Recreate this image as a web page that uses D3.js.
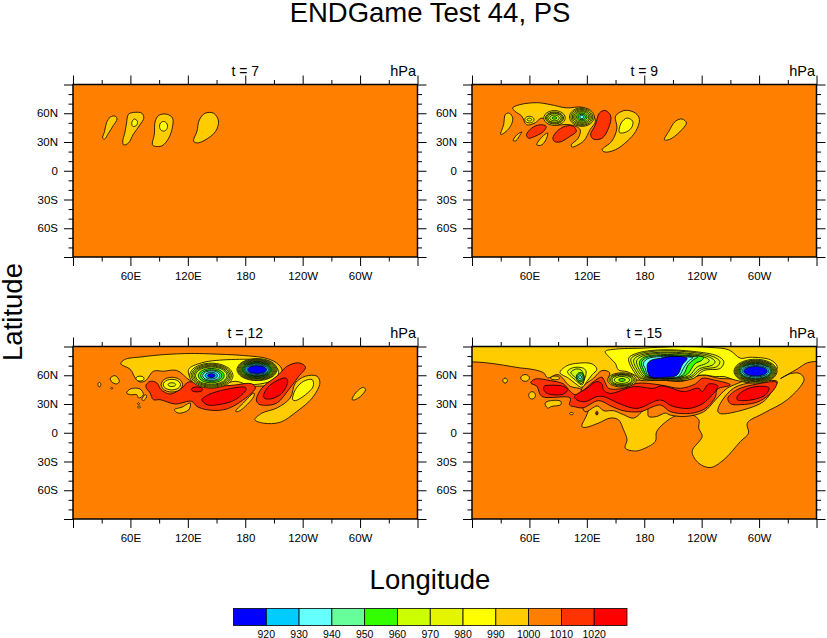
<!doctype html>
<meta charset="utf-8" />
<script src="https://cdn.jsdelivr.net/npm/d3@7/dist/d3.min.js"></script>
<style>
    html, body {
        margin: 0;
        background: white;
    }

    svg {
        display: block
    }

    text {
        font-family: "Liberation Sans", sans-serif;
        fill: black;
    }
</style>
<svg id="chart" width="827" height="638"></svg>
<script>
    // contour levels (hPa) and the band colours of the label bar
    var levels = [920, 930, 940, 950, 960, 970, 980, 990, 1000, 1010, 1020];
    var bandColors = ['#0000ff', '#00ccff', '#66ffff', '#66ff99', '#33ff00', '#ccff00',
        '#e5f500', '#ffff00', '#ffcc00', '#ff8000', '#ff3300', '#ff0000'];

    var lonMajor = [0, 60, 120, 180, 240, 300, 360];
    var lonMinor = [30, 90, 150, 210, 270, 330];
    var latMajor = [-90, -60, -30, 0, 30, 60, 90];
    var latMinor = [-80, -70, -50, -40, -20, -10, 10, 20, 40, 50, 70, 80];
    var lonLabels = { 60: '60E', 120: '120E', 180: '180', 240: '120W', 300: '60W' };
    var latLabels = { '-60': '60S', '-30': '30S', 0: '0', 30: '30N', 60: '60N' };

    // shapes. [band, [[lon, lat], ...]] is a closed contour,
    // [band, lon, lat, rLon, rLat] an oval one. band = lower bound of the colour band.
    var t7Shapes = [
        [990, [[31, 34], [33, 41], [35, 50], [39, 56], [44, 57], [46, 54], [42, 47], [37, 39], [33, 33]]],
        [990, [[52, 31], [54, 39], [56, 50], [58, 59], [65, 61], [72, 60], [74, 55], [70, 48], [63, 38], [58, 29], [53, 27]]],
        [980, [[61.4, 50], [64, 54], [67.4, 51.6], [66, 47], [62.5, 46.4]]],
        [990, [[83, 27], [85, 38], [86, 52], [90, 58], [98, 59], [104, 55], [104, 46], [100, 34], [93, 26], [86, 25.5]]],
        [980, 94.6, 46.4, 4.2, 5],
        [990, [[126, 31], [129.5, 41], [132, 53], [138, 60], [147, 60], [152, 52], [149, 41], [138, 32], [129.5, 29]]]
    ];

    var t9Shapes = [
        [990, [[30, 38], [33, 48], [35, 59], [39, 60], [42.6, 55], [40, 46], [33, 39]]],
        [990, [[42.6, 65.6], [50, 69], [68, 71], [82, 69], [99, 65.6], [115, 66.3], [125, 60], [129, 51.6], [123.5, 43], [116.6, 31], [104.4, 24.7], [103.7, 27], [111, 34], [113, 43], [102.6, 48], [85, 48], [73, 55], [66, 50], [57, 48], [52, 57], [45, 62]]],
        [980, 60, 53.4, 4.8, 3.4],
        [970, 60, 53.4, 2.5, 1.5],
        [980, 86.2, 55.1, 11.2, 7.7],
        [970, 86.2, 55.1, 9.5, 6.3],
        [970, 86.2, 55.1, 8.3, 5.4],
        [960, 86.2, 55.1, 7, 4.5],
        [960, 86.2, 55.1, 5, 3],
        [950, 86.2, 55.1, 2.5, 1.3],
        [980, 114.8, 56.1, 12.9, 9.8],
        [970, 114.8, 56.1, 11.5, 8.8],
        [970, 114.8, 56.1, 10, 7.8],
        [960, 114.8, 56.1, 8.6, 6.6],
        [960, 114.8, 56.1, 7.2, 5.5],
        [950, 114.8, 56.1, 5.5, 4.2],
        [940, 114.8, 56.1, 3.8, 2.9],
        [930, 114.8, 56.1, 2.2, 1.8],
        [1010, [[57, 37.6], [62.5, 44.6], [71, 48], [77.5, 46.4], [74.7, 41], [66, 36], [59, 34]]],
        [1010, [[84.5, 34], [88.6, 41], [97.4, 46.4], [106, 46.4], [109, 41], [102.6, 36], [92, 30], [86, 30.7]]],
        [1010, [[124, 37.6], [129, 48], [133, 60], [139, 63], [145, 57], [142.7, 44.6], [136, 34], [127, 33]]],
        [990, [[136, 22], [146, 30.7], [151.5, 44.6], [150, 57], [160, 63], [171, 60], [175, 53.4], [171, 41], [162, 30.7], [150, 22], [139, 19.5]]],
        [980, [[154, 40], [156, 50], [162, 55], [168, 51.6], [166.5, 44.6], [160, 40]]],
        [990, [[201, 32.4], [205.6, 41], [212.5, 51.6], [219.5, 54], [224, 50], [219.5, 43], [209, 34], [204, 32]]],
        [990, [[43, 31.4], [47, 37.6], [52, 40.4], [50, 37], [46, 31.4]]],
        [990, [[67.7, 27], [72, 34], [79, 39.4], [78, 34], [73, 27]]]
    ];

    var t12Shapes = [
        [990, [[50, 72], [54, 76.4], [72, 79.2], [96, 81.6], [122.5, 82.7], [143, 82.3], [178, 80.6], [203, 77.4], [215, 71], [218.5, 64], [211.5, 55.4], [206, 50], [190.6, 48.5], [159, 46.7], [138, 48.5], [122.5, 54.4], [108.5, 65], [94.6, 64.2], [84, 64.2], [76, 54.4], [70, 53], [65, 57.2], [60, 66]]],
        [980, 70, 56.5, 4.2, 2.6],
        [980, [[120.8, 66], [134.7, 73], [166, 76.4], [197.5, 75.3], [211.5, 69.4], [215, 62.4], [208, 54.4], [183.6, 50.2], [169.6, 53.7], [141.7, 46.7], [124, 55.4]]],
        [1010, [[76, 48.5], [80.6, 53.7], [87.6, 52], [92, 45], [101.6, 40.4], [113.8, 46.7], [120.8, 53], [141.7, 48.5], [166, 49.5], [187, 51], [190.6, 46.7], [171.4, 30], [157.4, 24], [140, 24], [129.5, 27.5], [124, 32.8], [106.8, 30], [91, 34.5], [84, 34.5], [80.6, 41.5]]],
        [1020, [[134.7, 34.5], [141.7, 39.7], [159, 45], [180, 47.4], [180.8, 45], [169.6, 34.5], [152, 29.3], [140, 29.3]]],
        [1020, 129.5, 45.2, 6, 2.6],
        [990, 103.3, 50.2, 11.2, 7.7],
        [980, 103.3, 50.2, 9, 5.5],
        [970, 103.3, 50.2, 4, 2],
        // the two deep lows
        [980, 144.5, 59.6, 22.7, 13],
        [970, 144.5, 59.6, 21, 12],
        [970, 144.5, 59.6, 19.5, 11],
        [960, 144.5, 59.6, 18, 10],
        [960, 144.5, 59.6, 16.5, 9],
        [950, 144.5, 59.6, 13.5, 7.5],
        [940, 144.5, 59.6, 11, 6],
        [930, 144.5, 59.6, 9, 5],
        [920, 144.5, 59.6, 6.5, 3.5],
        [910, 144.5, 59.6, 4, 2],
        [980, 192.3, 65.9, 21, 11.5],
        [970, 192.3, 65.9, 20, 10.8],
        [970, 192.3, 65.9, 19, 10],
        [960, 192.3, 65.9, 18, 9.3],
        [960, 192.3, 65.9, 17, 8.6],
        [950, 192.3, 65.9, 16, 8],
        [950, 192.3, 65.9, 15, 7.3],
        [940, 192.3, 65.9, 14, 6.6],
        [930, 192.3, 65.9, 13, 6],
        [920, 192.3, 65.9, 12, 5],
        [910, 192.3, 65.9, 10, 4],
        // small features
        [990, [[39, 57], [44, 59.6], [48.5, 53.7], [45.7, 51], [40.5, 53]]],
        [990, 27.6, 50.2, 1.5, 2.4],
        [990, 40.5, 46.4, 1, 1],
        [990, [[56, 41.5], [60, 45.7], [70, 45.7], [73.6, 39.7], [68.4, 36.3], [66.7, 39.7], [60, 39.7]]],
        [990, [[72, 34.5], [75.4, 39.7], [77, 38.7], [74.3, 33.8]]],
        [990, 68.4, 30.3, 1, 1],
        [990, 69, 26.8, 1.2, 1.2],
        [990, [[106, 24], [114, 26.8], [122.5, 31], [121, 24], [110, 20.5]]],
        [990, [[170, 22.3], [178, 31], [189, 41.5], [189, 38], [180, 27.5], [173, 22.3]]],
        // eastern waves
        [1010, [[191.6, 34.5], [197.5, 46.7], [215, 60.7], [223.7, 69.4], [236, 72.9], [243, 68.4], [236, 59], [225.5, 45], [213, 31], [201, 28.6], [194, 30]]],
        [1020, [[199, 38], [204.5, 48.5], [222, 57.2], [224.4, 53.7], [218.5, 41.5], [208, 35.6], [201, 35.6]]],
        [990, [[190, 13.6], [197.5, 20.5], [213, 25.8], [227, 36.3], [232.4, 52], [243, 59], [255, 59], [258, 52], [250, 36.3], [234, 22.3], [216.7, 11], [199, 10]]],
        [980, [[229.6, 34.5], [232.4, 45], [241, 53.7], [250, 55.4], [251, 48.5], [243, 39.7], [232.4, 33.5]]],
        [990, [[291.7, 34.5], [295.3, 41.5], [303.3, 47.4], [305.7, 45], [300.5, 38], [294, 34.2]]]
    ];

    var t15Shapes = [
        // gold area, runs off the frame at the top and both sides
        [990, [[-10, 74], [0, 74], [15, 73], [33, 70.5], [50, 67.7], [64, 66], [75, 62.4], [79, 57.2], [90, 60.7], [102.6, 48.5], [114.8, 45], [123, 30], [120, 18.8], [114.8, 6.6], [118, 5.5], [132, 10], [144.5, 15.3], [153, 13.6], [158.4, 3], [162, -7.4], [160, -16], [169, -19], [176, -18], [191.6, -9], [193, 1.4], [211, 17], [225, 20.5], [237, 13.6], [237, 4.8], [240.5, -3.9], [230, -19.6], [237, -31.8], [249, -36.3], [263, -28.3], [280.6, -9], [289, -0.4], [287.6, 10], [305, 20.5], [329.5, 34.5], [347, 55.4], [342.7, 61.7], [333, 61.7], [322.4, 56.5], [340, 66.6], [350.4, 73], [362.6, 74.6], [370, 75], [370, 95], [-10, 95]]],
        [1000, [[114.8, 46.4], [127, 56.8], [135.8, 64.9], [143.8, 62.8], [142.7, 55], [172.4, 55], [197, 55], [217.8, 53.4], [224.8, 55], [240.5, 60.3], [258, 56.8], [284, 55], [266.6, 46.4], [254.4, 34.2], [242.2, 21.9], [223, 17], [207, 18.5], [202, 20.5], [193, 17], [184.6, 17], [183, 25.8], [169, 15.3], [158, 19], [148, 23], [137.5, 23], [131, 28], [118, 22]]],
        [1010, [[61.4, 52], [66, 56.1], [81.7, 54.4], [95.6, 50.9], [102.6, 43.2], [107.8, 39.7], [114.8, 42.9], [127, 53.4], [135.8, 57.9], [139.3, 52], [142.7, 46.4], [158.4, 46.4], [172.4, 51.6], [196.8, 49.9], [217.8, 46.4], [233.5, 51], [240.5, 56.8], [252.7, 55.1], [270.1, 49.9], [256.2, 45.3], [254.4, 37.6], [244, 25.4], [228.2, 20.2], [207.3, 22], [196.8, 29], [175.9, 22], [158, 23], [145, 28], [132.3, 33.5], [116, 26], [108, 27], [102, 29], [102.6, 36.3], [72.9, 38], [67.7, 48.5]]],
        [1020, [[75.4, 48.5], [80, 49.5], [95.6, 48.5], [99.8, 45], [95.6, 40.4], [80, 40.4], [75.4, 44]]],
        [1020, [[107.2, 37.7], [120, 46.4], [130.5, 53.4], [135.8, 50.9], [137.5, 44.6], [144.5, 41.1], [169, 48.1], [189.9, 46.4], [196.9, 48.8], [205.5, 47.4], [221.2, 42.9], [236.9, 46.4], [240.4, 42.9], [247.4, 50.9], [256.8, 48.8], [250.9, 39.4], [240.4, 30], [226.5, 25.4], [209, 27.9], [196.9, 34.2], [172.4, 25.4], [155, 30], [137.5, 37.7], [130.5, 37.7], [118.3, 32.4], [109.5, 34.2]]],
        // eastern blob
        [1000, [[256.9, 22.3], [259.7, 31], [273.6, 46.7], [294.5, 52.7], [319, 53.5], [315.4, 46.7], [305, 32.8], [284, 24], [259.7, 19.9]]],
        [1010, [[267.4, 36.3], [277.2, 45], [298.1, 50.9], [318.4, 52.7], [317.3, 47.8], [310.4, 39.7], [298.1, 32], [280.6, 29.3], [270.1, 30.3]]],
        [1020, [[277.2, 38], [285.9, 45], [299.9, 48.5], [310.4, 46.7], [306.9, 39.7], [296.4, 35.2], [282.4, 33.5], [277.2, 34.5]]],
        // yellow lobes and lows
        [980, [[92, 62.8], [99, 69.8], [111.3, 72.6], [125.3, 71.9], [130.5, 66.3], [125.3, 60.3], [120, 53.4], [114.8, 47.4], [107.8, 51.6], [101, 56.8]]],
        [970, [[99.8, 63.8], [106, 68], [116.6, 67.3], [119.3, 63.8], [117.3, 55.1], [115, 49.9], [107.8, 55.1]]],
        [960, [[103.3, 62.8], [108.2, 66.3], [113.8, 65.6], [117.3, 56.8], [113.8, 50.9], [108.9, 56.8]]],
        [950, 113, 57.9, 4, 5],
        [940, 113, 57.9, 3, 3.5],
        [930, 113, 57.9, 1.5, 1.8],
        [980, [[139.2, 84.8], [149.7, 87.2], [179.4, 88.3], [214.3, 90], [249.2, 89], [268.4, 86.5], [280.6, 77.8], [290.6, 78.8], [312, 76], [319, 69], [315.4, 62], [305, 55], [291, 52.3], [275.1, 55], [263.2, 58.6], [254.4, 58.6], [240.5, 60.3], [218.8, 55], [196.8, 55], [175.9, 55], [172.4, 58.6], [161.9, 63.8], [153, 65.6], [149.7, 72.6], [144.5, 77.8]]],
        [980, 156.7, 55.1, 15, 7.5],
        [970, 156.7, 55.1, 13.5, 6.6],
        [970, 156.7, 55.1, 12, 5.8],
        [960, 156.7, 55.1, 10.5, 5],
        [960, 156.7, 55.1, 8, 3.6],
        [950, 156.7, 55.1, 3.5, 1.5],
        [970, [[163.7, 77.8], [172.4, 83], [196.8, 86.5], [231.7, 84.8], [256.2, 80.2], [263.2, 74.3], [259.7, 67.3], [242.2, 64.9], [231.7, 56.8], [217.8, 54.4], [196.8, 55], [175.9, 56.8], [169, 64]]],
        [970, [[166, 77], [174, 82], [197, 85.5], [231, 83.8], [252, 79.5], [259, 74.2], [256, 69], [240, 66], [230, 58], [217, 55.5], [197, 55.8], [177, 57.5], [171, 64.5]]],
        [960, [[169, 76], [176, 81], [197, 84], [230, 82.5], [249, 78.5], [254, 74.2], [251, 70.5], [238, 67], [229, 59], [216, 56.5], [197, 56.5], [179, 58.2], [173, 65]]],
        [960, [[172, 75], [178, 80], [197, 83], [229, 81.5], [245, 78], [248, 75], [244, 72], [235, 68.5], [227.5, 60], [215.5, 57], [197, 57], [180.5, 58.8], [175, 65.5]]],
        [950, [[175, 74], [180, 79], [197, 81.5], [228, 80.5], [242, 78.5], [240, 75.5], [233, 72], [225, 61], [215, 57.6], [197, 57.2], [182, 59.2], [177, 66]]],
        [940, [[177, 73], [181.5, 78], [197, 80.5], [226, 79.7], [236, 78.8], [232, 76.5], [226, 71], [221, 61], [214.8, 58], [197, 57.4], [183, 59.5], [179, 66.5]]],
        [930, [[179, 72], [183, 77], [197, 79.5], [226, 79], [231, 78.3], [227, 75.5], [222, 69], [217, 60], [214.6, 58.3], [197, 57.6], [184, 59.8], [181, 67]]],
        [910, [[183, 70], [186, 75], [197, 77.8], [207, 79.5], [224.8, 77.8], [219.6, 70.8], [214.4, 60.3], [202, 57.9], [186.4, 58.6]]],
        [980, 296.3, 64.2, 22.5, 12.5],
        [970, 296.3, 64.2, 21.5, 11.5],
        [970, 296.3, 64.2, 20.5, 10.8],
        [960, 296.3, 64.2, 19.5, 10],
        [960, 296.3, 64.2, 18.5, 9.3],
        [950, 296.3, 64.2, 17.5, 8.6],
        [940, 296.3, 64.2, 16.5, 7.9],
        [930, 296.3, 64.2, 15.5, 7.2],
        [920, 296.3, 64.2, 14, 6],
        [910, 296.3, 64.2, 12.2, 4.9],
        // small features
        [990, 34.6, 54.4, 2.4, 2.6],
        [990, 55.5, 57.2, 4.5, 3.5],
        [990, 62.8, 39, 3.5, 3.8],
        [990, 86.9, 57.2, 4.7, 2],
        [990, [[76.4, 31], [81.7, 33.4], [92.8, 32.8], [92.8, 29.3], [83.4, 27.5], [79, 25.8]]],
        [990, 104, 20, 2, 1.2],
        [1000, 130.5, 20.5, 1.2, 2],
        [1010, 130.5, 20, 0.7, 0.9]
    ];

    var panels = [
        { title: 't = 7', shapes: t7Shapes, x: 73, y: 84.5 },
        { title: 't = 9', shapes: t9Shapes, x: 472, y: 84.5 },
        { title: 't = 12', shapes: t12Shapes, x: 73, y: 346.5 },
        { title: 't = 15', shapes: t15Shapes, x: 472, y: 346.5 }
    ];

    var panelW = 344.5, panelH = 172.5;
    var svg = d3.select('svg#chart');

    var x = d3.scaleLinear().domain([0, 360]).range([0, panelW]);
    var y = d3.scaleLinear().domain([-90, 90]).range([panelH, 0]);
    var color = d3.scaleThreshold().domain(levels).range(bandColors);

    var line = d3.line()
        .x(d => x(d[0]))
        .y(d => y(d[1]))
        .curve(d3.curveCatmullRomClosed.alpha(0.5));

    function outline(s) {
        if (typeof s[1] !== 'number') return s[1];
        // oval contour from its centre and radii
        return d3.range(12).map(i => {
            var a = i / 12 * 2 * Math.PI;
            return [s[1] + s[3] * Math.cos(a), s[2] + s[4] * Math.sin(a)];
        });
    }

    function drawAxes(g) {
        var sides = [
            { axis: d3.axisBottom(x), at: [0, panelH], major: lonMajor, minor: lonMinor, labels: lonLabels },
            { axis: d3.axisTop(x), at: [0, 0], major: lonMajor, minor: lonMinor },
            { axis: d3.axisLeft(y), at: [0, 0], major: latMajor, minor: latMinor, labels: latLabels },
            { axis: d3.axisRight(y), at: [panelW, 0], major: latMajor, minor: latMinor }
        ];
        sides.forEach(s => {
            g.append('g')
                .attr('transform', 'translate(' + s.at + ')')
                .call(s.axis.tickValues(s.minor).tickSize(4.5).tickFormat(''))
                .call(a => a.select('.domain').remove());
            var major = g.append('g')
                .attr('transform', 'translate(' + s.at + ')')
                .call(s.axis.tickValues(s.major).tickSize(9).tickPadding(6)
                    .tickFormat(d => s.labels ? (s.labels[d] || '') : ''))
                .call(a => a.select('.domain').remove());
            major.selectAll('text').style('font-size', '11.5px');
            major.selectAll('line').attr('stroke-width', 1);
        });
    }

    panels.forEach((p, i) => {
        var g = svg.append('g').attr('transform', 'translate(' + p.x + ',' + p.y + ')');

        g.append('clipPath').attr('id', 'clip' + i)
            .append('rect').attr('width', panelW).attr('height', panelH);

        var field = g.append('g').attr('clip-path', 'url(#clip' + i + ')');
        // the whole map sits in the 1000-1010 band
        field.append('rect').attr('width', panelW).attr('height', panelH).attr('fill', color(1000));

        field.selectAll('path')
            .data(p.shapes)
            .enter()
            .append('path')
            .attr('d', d => line(outline(d)))
            .attr('fill', d => color(d[0]))
            .attr('stroke', 'black')
            .attr('stroke-width', 0.8);

        drawAxes(g);

        g.append('rect')
            .attr('width', panelW).attr('height', panelH)
            .attr('fill', 'none').attr('stroke', 'black').attr('stroke-width', 1.5);

        g.append('text').attr('x', panelW / 2).attr('y', -8.5)
            .attr('text-anchor', 'middle').style('font-size', '14px').text(p.title);
        g.append('text').attr('x', panelW - 1.5).attr('y', -8.5)
            .attr('text-anchor', 'end').style('font-size', '14.5px').text('hPa');
    });

    // titles
    svg.append('text').attr('x', 430).attr('y', 22)
        .attr('text-anchor', 'middle').style('font-size', '27.5px').text('ENDGame Test 44, PS');
    svg.append('text').attr('x', 430).attr('y', 589)
        .attr('text-anchor', 'middle').style('font-size', '27.5px').text('Longitude');
    svg.append('text').attr('transform', 'translate(22,312) rotate(-90)')
        .attr('text-anchor', 'middle').style('font-size', '27.5px').text('Latitude');

    // label bar
    var barX = d3.scaleLinear().domain([0, bandColors.length]).range([233.5, 627]);
    var bar = svg.append('g');
    bar.selectAll('rect')
        .data(bandColors)
        .enter()
        .append('rect')
        .attr('x', (d, i) => barX(i))
        .attr('y', 608.5)
        .attr('width', barX(1) - barX(0))
        .attr('height', 17)
        .attr('fill', d => d)
        .attr('stroke', 'black')
        .attr('stroke-width', 0.8);
    bar.selectAll('text')
        .data(levels)
        .enter()
        .append('text')
        .attr('x', (d, i) => barX(i + 1))
        .attr('y', 637.5)
        .attr('text-anchor', 'middle')
        .style('font-size', '10.5px')
        .text(d => d);
</script>
